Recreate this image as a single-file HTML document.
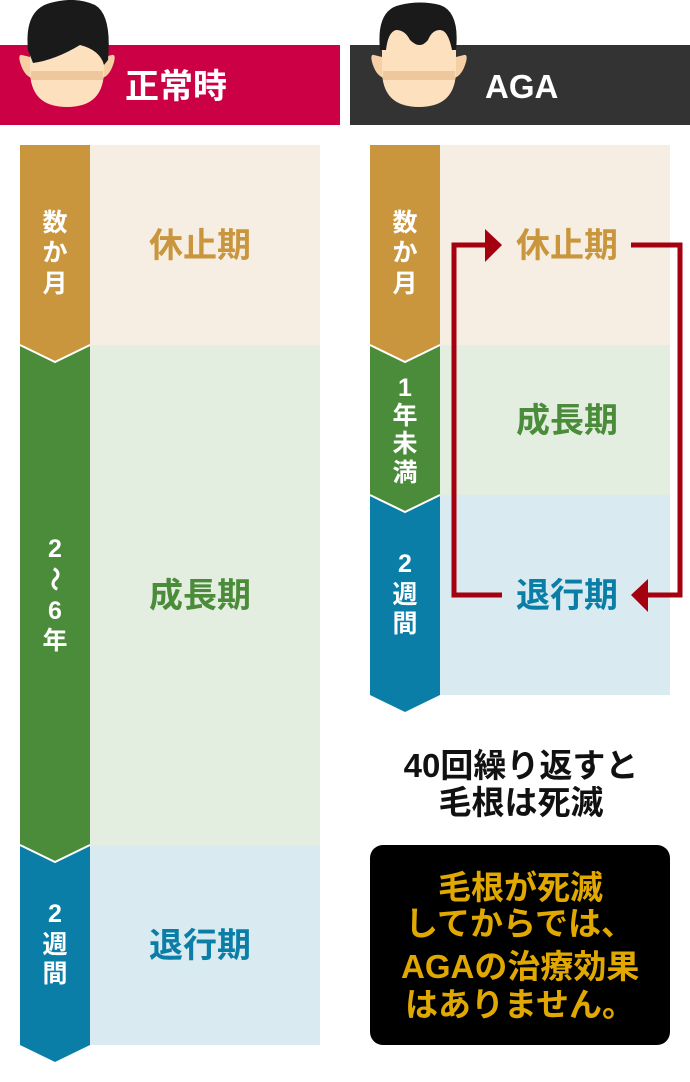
<!DOCTYPE html>
<html><head><meta charset="utf-8"><style>
html,body{margin:0;padding:0;background:#fff;width:690px;height:1082px;overflow:hidden}
svg{display:block}
text{font-family:"Liberation Sans","Noto Sans CJK JP",sans-serif;font-weight:bold}
</style></head><body>
<svg width="690" height="1082" viewBox="0 0 690 1082" xmlns="http://www.w3.org/2000/svg">
<rect x="0" y="45" width="340" height="80" fill="#cc0044"/>
<rect x="350" y="45" width="340" height="80" fill="#333333"/>
<text x="125" y="98" font-size="34" fill="#fff">正常時</text>
<text x="485" y="98" font-size="33" fill="#fff" font-family="Liberation Sans,sans-serif">AGA</text>

<g>
<path d="M22 55 Q18 54 20 62 Q24 76 32 78 L34 58 Z" fill="#f6cfa5"/>
<path d="M112 55 Q116 54 114 62 Q110 76 102 78 L100 58 Z" fill="#f6cfa5"/>
<path d="M30 40 Q30 20 67 20 Q104 20 104 40 L104 70 Q104 107 67 107 Q30 107 30 70 Z" fill="#fde0bd"/>
<rect x="31" y="71" width="72" height="9" fill="#eec89c"/>
<path d="M28 50 Q24 10 50 3 Q75 -4 95 5 Q112 15 108 60 L104 65 Q100 50 80 45 Q55 60 33 63 Z" fill="#1a1a1a"/>
</g>
<g>
<path d="M374 55 Q370 54 372 62 Q376 76 384 78 L386 58 Z" fill="#f6cfa5"/>
<path d="M464 55 Q468 54 466 62 Q462 76 454 78 L452 58 Z" fill="#f6cfa5"/>
<path d="M382 40 Q382 20 419 20 Q456 20 456 40 L456 70 Q456 107 419 107 Q382 107 382 70 Z" fill="#fde0bd"/>
<rect x="383" y="71" width="72" height="9" fill="#eec89c"/>
<path d="M380 50 Q376 10 400 5 Q420 0 440 5 Q460 12 456 50 L452 50 Q448 30 440 30 Q432 30 428 40 Q420 50 410 40 Q405 30 396 30 Q388 32 386 50 Z" fill="#1a1a1a"/>
</g>

<rect x="90" y="145" width="230" height="200" fill="#f6eee2"/>
<rect x="90" y="345" width="230" height="500" fill="#e3eee1"/>
<rect x="90" y="845" width="230" height="200" fill="#d9eaf1"/>
<polygon points="20,845 90,845 90,1045 55,1062 20,1045" fill="#0b7ea8"/>
<polygon points="20,345 90,345 90,845 55,862 20,845" fill="#4b8c3a"/>
<polyline points="20,845 55,862 90,845" fill="none" stroke="#fff" stroke-width="2"/>
<polygon points="20,145 90,145 90,345 55,362 20,345" fill="#c9963d"/>
<polyline points="20,345 55,362 90,345" fill="none" stroke="#fff" stroke-width="2"/>

<rect x="440" y="145" width="230" height="200" fill="#f6eee2"/>
<rect x="440" y="345" width="230" height="150" fill="#e3eee1"/>
<rect x="440" y="495" width="230" height="200" fill="#d9eaf1"/>
<polygon points="370,495 440,495 440,695 405,712 370,695" fill="#0b7ea8"/>
<polygon points="370,345 440,345 440,495 405,512 370,495" fill="#4b8c3a"/>
<polyline points="370,495 405,512 440,495" fill="none" stroke="#fff" stroke-width="2"/>
<polygon points="370,145 440,145 440,345 405,362 370,345" fill="#c9963d"/>
<polyline points="370,345 405,362 440,345" fill="none" stroke="#fff" stroke-width="2"/>

<g font-size="25" fill="#fff" text-anchor="middle">
<text x="55" y="231">数</text><text x="55" y="261">か</text><text x="55" y="292">月</text>
<text x="55" y="557">2</text><text x="55" y="588" transform="rotate(90 55 579)">〜</text><text x="55" y="619">6</text><text x="55" y="649">年</text>
<text x="55" y="922">2</text><text x="55" y="953">週</text><text x="55" y="982">間</text>
<text x="405" y="231">数</text><text x="405" y="261">か</text><text x="405" y="292">月</text>
<text x="405" y="396">1</text><text x="405" y="424">年</text><text x="405" y="452">未</text><text x="405" y="481">満</text>
<text x="405" y="572">2</text><text x="405" y="603">週</text><text x="405" y="632">間</text>
</g>

<g font-size="34" text-anchor="middle">
<text x="200" y="257" fill="#c9963d">休止期</text>
<text x="200" y="607" fill="#4b8c3a">成長期</text>
<text x="200" y="957" fill="#0b7ea8">退行期</text>
<text x="567" y="257" fill="#c9963d">休止期</text>
<text x="567" y="432" fill="#4b8c3a">成長期</text>
<text x="567" y="607" fill="#0b7ea8">退行期</text>
</g>

<g fill="none" stroke="#a50010" stroke-width="5">
<polyline points="488,245 454,245 454,595 502,595"/>
<polyline points="631,245 680,245 680,595 646,595"/>
</g>
<polygon points="485,229 502,245 485,262" fill="#a50010"/>
<polygon points="648,579 631,595 648,612" fill="#a50010"/>

<g font-size="33" fill="#111" text-anchor="middle">
<text x="521" y="777">40回繰り返すと</text>
<text x="521" y="814">毛根は死滅</text>
</g>
<rect x="370" y="845" width="300" height="200" rx="13" fill="#000"/>
<g font-size="33" fill="#e0a800">
<text x="438" y="899">毛根が死滅</text>
<text x="405" y="935">してからでは、</text>
<text x="401" y="978">AGAの治療効果</text>
<text x="405" y="1016">はありません。</text>
</g>
</svg>
</body></html>
